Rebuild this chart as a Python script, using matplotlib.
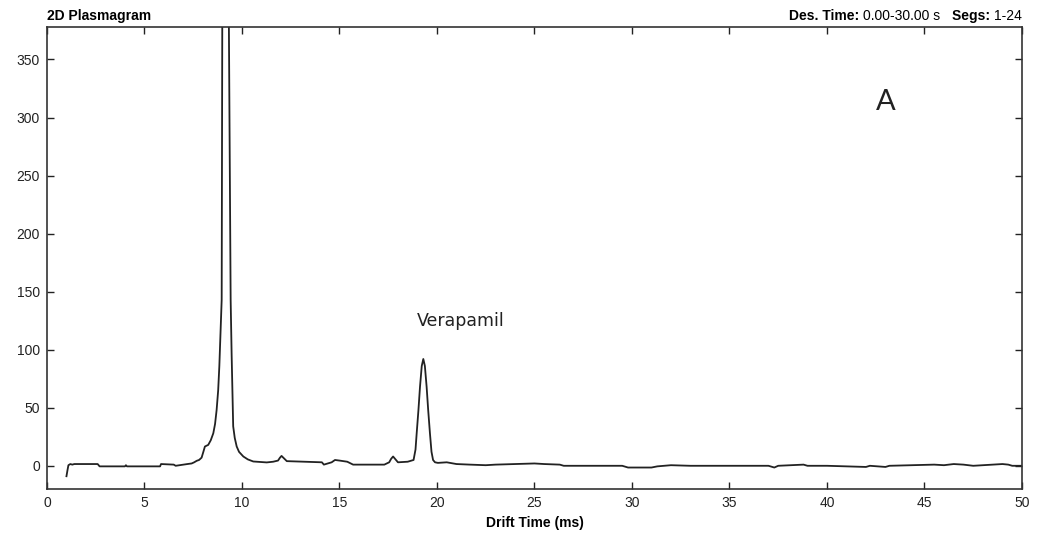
import numpy as np
import matplotlib.pyplot as plt

# drift time (ms) and intensity
drift_time = [1.0, 1.05, 1.1, 1.2, 1.3, 1.4, 2.6, 2.7, 4.0, 4.05, 4.1, 5.0, 5.8, 5.85,
              6.5, 6.6, 7.2, 7.42, 7.55, 7.68, 7.8, 7.93, 8.02, 8.1, 8.27, 8.4, 8.53,
              8.62, 8.7, 8.78, 8.84, 8.96, 8.99, 9.15, 9.33, 9.42, 9.47, 9.55, 9.63,
              9.73, 9.85, 10.07, 10.3, 10.58, 11.27, 11.6, 11.85, 11.95, 12.03, 12.12,
              12.3, 14.1, 14.2, 14.6, 14.77, 15.0, 15.4, 15.7, 17.3, 17.55, 17.65,
              17.75, 17.85, 18.0, 18.5, 18.8, 18.9, 18.96, 19.05, 19.13, 19.22, 19.3,
              19.38, 19.47, 19.55, 19.64, 19.72, 19.8, 19.9, 20.05, 20.5,
              21.0, 21.7, 22.5, 23.0, 24.0, 25.0, 25.5, 26.3, 26.5, 29.5, 29.8, 31.0,
              31.3, 32.0, 33.0, 37.0, 37.3, 37.5, 38.8, 39.0, 40.0, 42.0, 42.2, 43.0,
              43.2, 45.5, 46.0, 46.5, 47.0, 47.5, 49.0, 49.3, 49.5, 50.0]
intensity = [-9, -4, 0.5, 1.5, 1.0, 1.5, 1.5, -0.5, -0.5, 0.5, -0.5, -0.5, -0.5, 1.5,
             1.0, 0.0, 1.5, 2, 3, 4.3, 5, 7, 12, 16.6, 18, 22, 28,
             36, 48, 65, 86, 143, 378, 700, 378, 143, 96, 34, 24,
             16.6, 12, 8, 5.5, 3.7, 2.9, 3.5, 4.5, 7, 8.5, 7,
             4, 3, 1, 3, 5, 4.5, 3.5, 1, 1, 3, 6,
             8, 6, 3, 3.5, 5, 14, 28, 48, 68, 86, 92,
             86, 68, 48, 28, 12, 5, 3, 2.5, 3,
             1.5, 1, 0.5, 1, 1.5, 2, 1.5, 1, 0, 0, -1.5, -1.5,
             -0.5, 0.5, 0, 0, -1.5, 0, 1, 0, 0, -1, 0, -1,
             0, 1, 0.5, 1.5, 1, 0, 1.5, 1, 0, 0]

x_ticks = np.arange(0, 51, 5)
y_ticks = np.arange(0, 351, 50)

plt.rcParams['font.family'] = ['Liberation Sans', 'DejaVu Sans']

fig = plt.figure(figsize=(10.39, 5.44), dpi=100)
ax = fig.add_axes([0.0452, 0.1011, 0.9384, 0.8493])
ax.plot(drift_time, intensity, color='#222222', lw=1.3)

ax.set_xlim(0, 50)
ax.set_ylim(-20, 378)
ax.set_xticks(x_ticks)
ax.set_yticks(y_ticks)
ax.tick_params(direction='in', length=5, width=1, top=True, right=True,
               labelsize=10, colors='#222222', pad=5)
for s in ax.spines.values():
    s.set_linewidth(1.2)
    s.set_color('#333333')
ax.set_xlabel('Drift Time (ms)', fontsize=10, fontweight='bold', labelpad=4)

# header texts
fig.text(0.0452, 0.958, '2D Plasmagram', fontsize=10, fontweight='bold', va='bottom')
t = fig.text(0.9836, 0.958, '1-24', fontsize=10, ha='right', va='bottom')
t = ax.annotate('Segs: ', xy=(0, 0), xycoords=t, ha='right', va='bottom',
                fontsize=10, fontweight='bold')
t = ax.annotate('0.00-30.00 s   ', xy=(0, 0), xycoords=t, ha='right', va='bottom',
                fontsize=10)
t = ax.annotate('Des. Time: ', xy=(0, 0), xycoords=t, ha='right', va='bottom',
                fontsize=10)
t.set_fontweight('bold')

ax.text(21.2, 125, 'Verapamil', fontsize=12.5, ha='center', va='center',
        family='DejaVu Sans', color='#222222')
ax.text(43.0, 313, 'A', fontsize=21, ha='center', va='center', family='Lato',
        fontweight='normal', color='#222222')

fig.savefig('out.png', dpi=100)
